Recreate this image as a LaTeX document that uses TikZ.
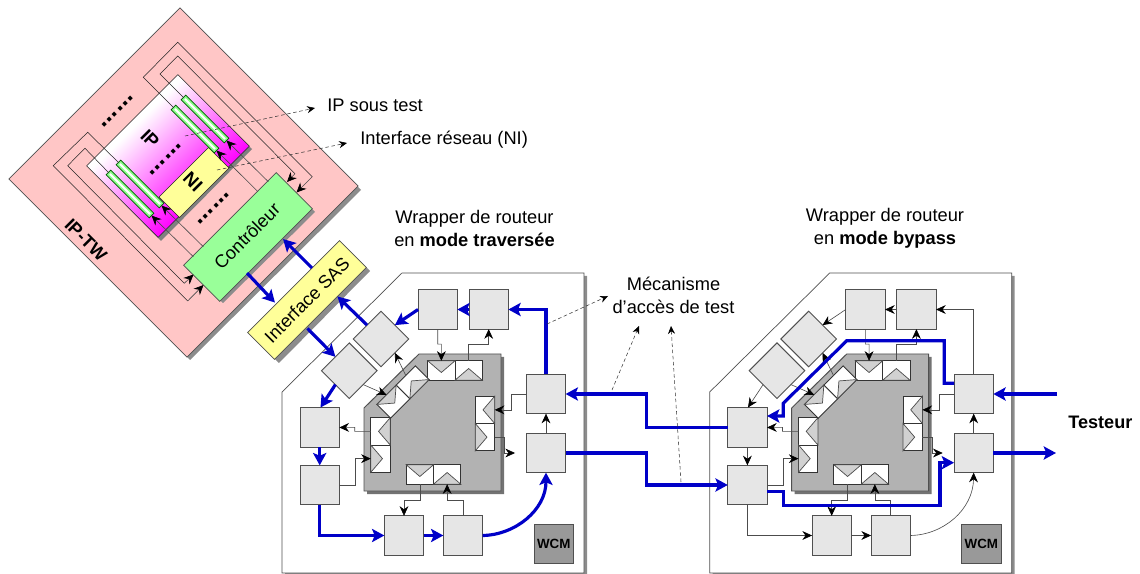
\documentclass[tikz,border=0pt]{standalone}
\usepackage{fontspec}
\setmainfont{Liberation Sans}
\usepackage{xcolor}
\usetikzlibrary{arrows.meta, calc}
\definecolor{blueway}{HTML}{0000C8}
\definecolor{pinkwrap}{HTML}{FFC6C6}
\definecolor{greenctrl}{HTML}{99FF99}
\definecolor{yellowif}{HTML}{FFFF99}
\definecolor{boxgrey}{HTML}{E6E6E6}
\definecolor{coregrey}{HTML}{B2B2B2}
\definecolor{wcmgrey}{HTML}{999999}
\definecolor{edgegrey}{HTML}{505050}
\pgfdeclareverticalshading{ipfade}{100bp}{color(0bp)=(magenta); color(34bp)=(magenta); color(64bp)=(white); color(100bp)=(white)}
\tikzset{
  tip/.style={-{Stealth[length=5.5pt,width=5pt,black]}},
  thinwire/.style={draw=black!70, line width=0.35pt, tip},
  fineline/.style={draw=black!85, line width=0.3pt},
  thickway/.style={draw=blueway, line width=1.8pt, -{Stealth[length=7pt,width=7.5pt,inset=1.5pt]}},
  hintline/.style={draw=black!80, line width=0.3pt, dash pattern=on 2pt off 1.5pt, -{Stealth[length=4.5pt,width=4pt,black]}},
  cellbox/.style={draw=edgegrey, line width=0.55pt, minimum width=39.3*0.02cm, minimum height=39.3*0.02cm, inner sep=0pt, outer sep=0pt, fill=boxgrey},
  portcell/.style={draw=black!80, line width=0.5pt, fill=white, minimum width=27.3*0.02cm, minimum height=19.4*0.02cm, inner sep=0pt, outer sep=0pt},
  portflap/.style={draw=black!70, line width=0.4pt, fill=black!18},
  label/.style={font=\fontsize{10.4}{12.9}\selectfont, align=center, inner sep=0pt},
  slanted/.style={font=\fontsize{10.3}{12}\selectfont, rotate=45, inner sep=0pt},
  boldslant/.style={font=\fontsize{10.2}{12}\selectfont\bfseries, rotate=-45, inner sep=0pt},
  dotrow/.style={font=\fontsize{14.6}{16}\selectfont\bfseries, rotate=45, anchor=base, inner sep=0pt},
  testbar/.style={draw=black!65!green, line width=0.45pt, rotate=-45, minimum width=61*0.02cm, minimum height=6.5*0.02cm, inner sep=0pt, outer sep=0pt, fill=green!45!white},
}
% pair of port cells of the router core
\newcommand{\portpair}[4]{%
  \begin{scope}[shift={(#2,#3)}, rotate=#4, transform shape]
    \node[portcell] (#1a) at (-13.65,0) {};
    \node[portcell] (#1b) at (13.65,0) {};
    \draw[portflap] (#1a.north west) -- ($(#1a.center)+(0,2)$) -- (#1a.north east) -- cycle;
    \draw[portflap] (#1b.south west) -- ($(#1b.center)+(0,-2)$) -- (#1b.south east) -- cycle;
  \end{scope}}
\begin{document}
\begin{tikzpicture}[x=0.02cm, y=-0.02cm]
  \useasboundingbox (0,0) rectangle (1140,574);

  % IP wrapper
  \fill[black!45] (182,11) -- (361,190) -- (190,360) -- (12,182) -- cycle;
  \node[draw=edgegrey, line width=0.4pt, fill=pinkwrap, rotate=45, minimum width=242*0.02cm, minimum height=252*0.02cm, inner sep=0pt] (wrapper) at (183.5,182.5) {};
  \node[boldslant] (iptw) at (86,240) {IP-TW};

  % IP core and network interface
  \fill[black!50] (180,78) -- (252,149) -- (161,241) -- (90,169) -- cycle;
  \node[fineline, rotate=-45, minimum width=101*0.02cm, minimum height=129*0.02cm, inner sep=0pt, outer sep=0pt, shading=ipfade, shading angle=45] (ipcore) at (168,156) {};
  \node[fineline, fill=yellowif, rotate=-45, minimum width=29*0.02cm, minimum height=70*0.02cm, inner sep=0pt, outer sep=0pt] (niblock) at (194,182.5) {};
  \node[inner sep=0pt, rotate=-45, font=\fontsize{10.5}{12}\selectfont\bfseries] (iptext) at (150,139) {IP};
  \node[inner sep=0pt, rotate=-45, font=\fontsize{10.5}{12}\selectfont\bfseries] (nitext) at (193,182) {NI};
  \node[dotrow] (dotsa) at (119,113) {......};
  \node[dotrow] (dotsb) at (167,161) {......};
  \node[dotrow] (dotsc) at (215,210) {......};

  % controller and SAS interface
  \fill[black!45] (279,176) -- (315,212) -- (223,303) -- (187,269) -- cycle;
  \fill[black!45] (343,244) -- (370,271) -- (279,363) -- (250,335) -- cycle;
  \node[draw=edgegrey, line width=0.4pt, fill=greenctrl, rotate=45, minimum width=131*0.02cm, minimum height=51*0.02cm, inner sep=0pt, outer sep=0pt] (ctrl) at (248,237) {};
  \node[slanted] (ctrltext) at (247,236) {Contrôleur};
  \node[draw=edgegrey, line width=0.4pt, fill=yellowif, rotate=45, minimum width=130*0.02cm, minimum height=38*0.02cm, inner sep=0pt, outer sep=0pt] (sas) at (307,300) {};
  \node[slanted] (sastext) at (307,300) {Interface SAS};

  % test bars of the IP
  \node[testbar] (bara) at (205,119) {};
  \node[testbar] (barb) at (195,129) {};
  \node[testbar] (barc) at (140,184) {};
  \node[testbar] (bard) at (130,194) {};
  \foreach \bn in {a,b,c,d}
    \draw[white, line width=1.1pt] ($(bar\bn.west)+(1.5,1.5)$) -- ($(bar\bn.east)+(-1.5,-1.5)$);
  \draw[fineline] (bara.west) -- (160,74) -- (177.7,56) -- (295,173.7);
  \draw[thinwire] (295,173.7) -- (287,182);
  \draw[fineline] (barb.west) -- (143.3,77.3) -- (177.7,42.3) -- (312.3,176.7);
  \draw[thinwire] (312.3,176.7) -- (296.5,192.5);
  \draw[fineline] (barc.west) -- (87.7,132.3) -- (53.3,165.7) -- (187.7,301);
  \draw[thinwire] (187.7,301) -- (203.5,285);
  \draw[fineline] (bard.west) -- (85,148.3) -- (67.7,165.7) -- (184.3,283.3);
  \draw[thinwire] (184.3,283.3) -- (193.5,274.5);
  \draw[thinwire] (268.3,181.7) -- (bara.east);
  \draw[thinwire] (258,191.7) -- (barb.east);
  \draw[thinwire] (203.3,246.7) -- (barc.east);
  \draw[thinwire] (193.3,256.7) -- (bard.east);

  % wrappers of the routers
  \foreach \rn/\dx in {t/0, b/427.7} {
    \begin{scope}[xshift=\dx*0.02cm]
      \fill[black!45] (405,276) -- (587,276) -- (587,576) -- (285,576) -- (285,395) -- cycle;
      \draw[fill=white, draw=edgegrey, line width=0.4pt] (402,273) -- (584,273) -- (584,573) -- (282,573) -- (282,392) -- cycle;
      \fill[black!55] (422,357) -- (504,357) -- (504,494) -- (367,494) -- (367,411) -- cycle;
      \draw[fill=coregrey, draw=edgegrey, line width=0.55pt] (419,354) -- (501,354) -- (501,491) -- (364,491) -- (364,408) -- cycle;
      \node[cellbox] (A\rn) at (437.7,309.5) {};
      \node[cellbox] (B\rn) at (488.7,309.5) {};
      \node[cellbox, rotate=45] (D\rn) at (381,339) {};
      \node[cellbox, rotate=45] (E\rn) at (349.3,370.7) {};
      \node[cellbox] (C\rn) at (319.7,427.5) {};
      \node[cellbox] (G\rn) at (319.7,485) {};
      \node[cellbox] (F\rn) at (404,535.5) {};
      \node[cellbox] (K\rn) at (463,535.5) {};
      \node[cellbox] (H\rn) at (546,394) {};
      \node[cellbox] (I\rn) at (546,453) {};
      \node[cellbox, fill=wcmgrey, font=\fontsize{7.6}{9}\selectfont\bfseries] (wcm\rn) at (553.7,543.7) {WCM};
      \portpair{pt\rn}{455}{370.5}{0}
      \portpair{pb\rn}{433.5}{474.5}{0}
      \portpair{pl\rn}{380.5}{445}{-90}
      \portpair{pr\rn}{485}{423.5}{-90}
      \portpair{pd\rn}{403}{392}{-135}
      \draw[thinwire] (A\rn.south) -- ++(0,15) -- ++(3.7,0) -- (pt\rn a.north);
      \draw[thinwire] (pt\rn b.north) -- ++(0,-16) -| (B\rn.south);
      \draw[thinwire] (pd\rn a.south) -- (D\rn.south);
      \draw[thinwire] (E\rn.south) -- (pd\rn b.south);
      \draw[thinwire] (pl\rn a.south) -- ++(-16,0) -- ++(0,-4) -- (C\rn.east);
      \draw[thinwire] (G\rn.east) -- ++(16,0) |- (pl\rn b.south);
      \draw[thinwire] (H\rn.west) -- ++(-15,0) |- (pr\rn a.north);
      \coordinate (free\rn) at (515,453);
      \draw[thinwire] (pr\rn b.north) -- ++(10,0) |- (free\rn);
      \draw[thinwire] (pb\rn a.south) -- ++(0,16) -| (F\rn.north);
      \draw[thinwire] (K\rn.north) -- ++(0,-16) -| (pb\rn b.south);
      \draw[thinwire] (I\rn.north) -- (H\rn.south);
    \end{scope}
  }

  % way through the first router
  \draw[thickway] (It.east) -- ++(81,0) |- (Gb.west);
  \draw[thickway] (Cb.west) -- ++(-81,0) |- (Ht.east);
  \draw[thickway] (Ht.north) |- (Bt.east);
  \draw[thickway] (Bt.west) -- (At.east);
  \draw[thickway] (At.west) -- (Dt.east);
  \draw[thickway] (Dt.north) -- ($(sas.south)+(17,-17)$);
  \draw[thickway] (Et.west) -- (320.5,407.5);
  \draw[thickway] (Ct.south) -- (Gt.north);
  \draw[thickway] (Gt.south) |- (Ft.west);
  \draw[thickway] (Ft.east) -- (Kt.west);
  \draw[thickway] (Kt.east) .. controls (515,535) and (546,510) .. (It.south);
  \draw[thickway] ($(sas.south)+(-13,15)$) -- (Et.north);
  \draw[thickway] ($(ctrl.south)+(-19,18)$) -- ($(sas.north)+(-18.6,16)$);
  \draw[thickway] ($(sas.north)+(18.4,-18.6)$) -- ($(ctrl.south)+(17,-16)$);

  % second router
  \draw[thinwire] (Hb.north) |- (Bb.east);
  \draw[thinwire] (Bb.west) -- (Ab.east);
  \draw[thinwire] (Ab.west) -- (Db.east);
  \draw[thinwire] (Eb.west) -- (748,407.5);
  \draw[thinwire] (Cb.south) -- (Gb.north);
  \draw[thinwire] (Gb.south) |- (Fb.west);
  \draw[thinwire] (Fb.east) -- (Kb.west);
  \draw[thinwire] (Kb.east) .. controls (943,535) and (973,510) .. (Ib.south);
  \draw[thickway] ($(Hb.west)+(0,-10.7)$) -| (944.3,340.7) -- (846.7,340.7) -- (783.3,403.3) -- (783.3,416) -- ($(Cb.east)+(0,-11.5)$);
  \draw[thickway] ($(Gb.east)+(0,6.7)$) -- (783.3,491.7) -- (783.3,505.7) -- (940,505.7) -- (940,462.7) -- ($(Ib.west)+(0,9.7)$);
  \coordinate (testin) at (1057,394);
  \coordinate (testout) at (1056,453);
  \draw[thickway] (testin) -- (Hb.east);
  \draw[thickway] (Ib.east) -- (testout);

  % labels
  \node[label, anchor=west] (iptest) at (327,105) {IP sous test};
  \node[label, anchor=west] (nitest) at (360,140) {Interface réseau (NI)};
  \node[label] (wrapt) at (474.5,228.5) {Wrapper de routeur\\en \textbf{mode traversée}};
  \node[label] (wrapb) at (885,228.5) {Wrapper de routeur\\en \textbf{mode bypass}};
  \node[label] (access) at (673.5,295.5) {Mécanisme\\d’accès de test};
  \node[label, font=\fontsize{10.3}{12}\selectfont\bfseries, anchor=west] (tester) at (1068,422) {Testeur};
  \coordinate (hintip) at (185,136);
  \coordinate (hintni) at (217,170);
  \coordinate (hinta) at (547,324);
  \coordinate (hintb) at (612,390);
  \coordinate (hintc) at (681,482);
  \draw[hintline] (hintip) -- ($(iptest.west)+(-12,3)$);
  \draw[hintline] (hintni) -- ($(nitest.west)+(-13,3)$);
  \draw[hintline] (hinta) -- (608,296);
  \draw[hintline] (hintb) -- (639,326);
  \draw[hintline] (hintc) -- (671,326);
\end{tikzpicture}
\end{document}
